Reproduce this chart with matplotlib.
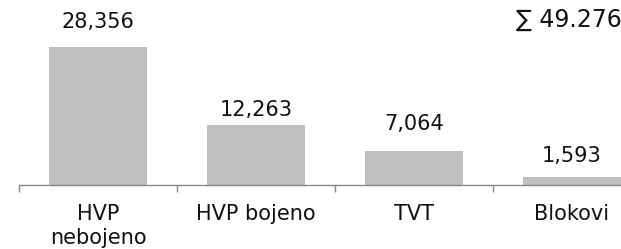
import matplotlib
matplotlib.use("Agg")
import matplotlib.pyplot as plt
import numpy as np

categories = ["HVP\nnebojeno", "HVP bojeno", "TVT", "Blokovi"]
values = [28.356, 12.263, 7.064, 1.593]
value_labels = ["28,356", "12,263", "7,064", "1,593"]
total_label = "\u2211 49.276"

# label gaps above each bar (points), as placed in the original
label_gaps = [13.7, 6.5, 15.0, 10.8]

W, H = 621, 249
fig = plt.figure(figsize=(W / 100, H / 100), dpi=100)
ax = fig.add_axes([19 / W, 64 / H, 632 / W, 170.3 / H])

x = np.arange(len(values))
ax.bar(x, values, width=0.62, color="#BFBFBF", zorder=2)
ax.set_xlim(-0.5, len(values) - 0.5)
ax.set_ylim(0, 35)

for xi, v, lab, g in zip(x, values, value_labels, label_gaps):
    ax.annotate(lab, (xi, v), xytext=(0, g), textcoords="offset points",
                ha="center", va="baseline", fontsize=15, color="#111111")

for s in ["top", "right", "left"]:
    ax.spines[s].set_visible(False)
ax.spines["bottom"].set_color("#888888")
ax.spines["bottom"].set_linewidth(1.0)
ax.set_yticks([])

ax.set_xticks(x)
ax.set_xticklabels(categories, fontsize=15, color="#111111", linespacing=1.2)
ax.tick_params(axis="x", which="major", length=0, pad=14)
ax.set_xticks(np.arange(len(values) + 1) - 0.5, minor=True)
ax.tick_params(axis="x", which="minor", length=5, width=1.0, color="#888888")

fig.text(516 / W, 1 - 27 / H, total_label, fontsize=17, ha="left", va="baseline",
         color="#111111")

fig.savefig("out.png", dpi=100, facecolor="white")
